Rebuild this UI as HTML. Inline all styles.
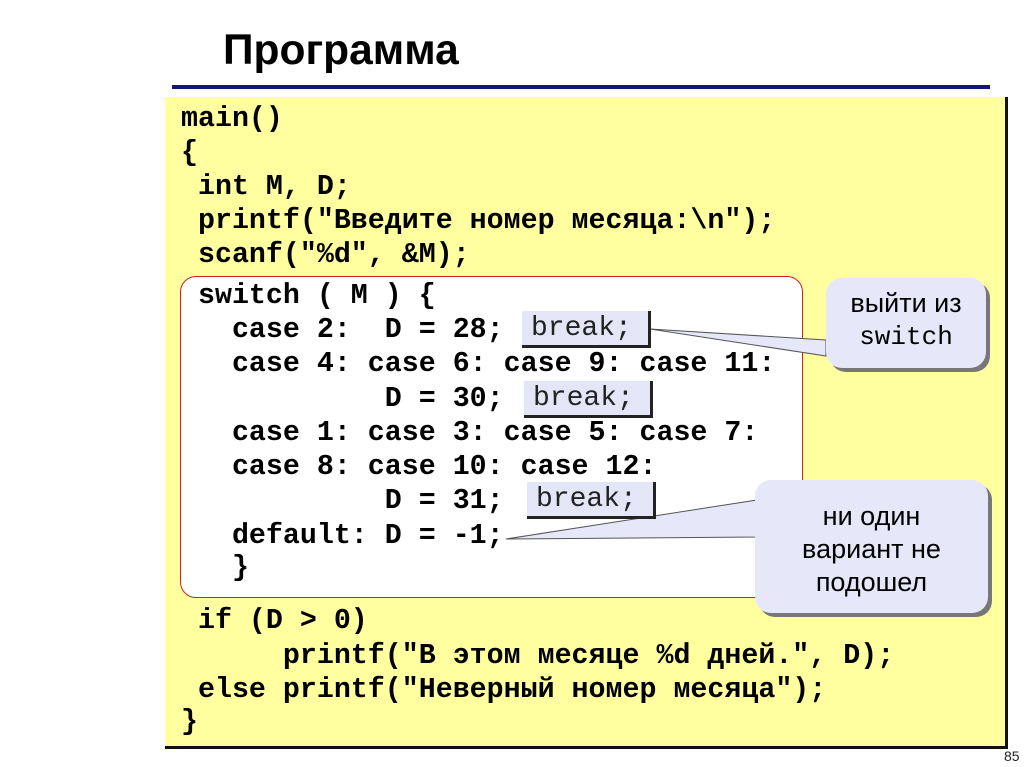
<!DOCTYPE html>
<html><head><meta charset="utf-8"><style>
body{margin:0;width:1024px;height:767px;background:#fff;position:relative;overflow:hidden;font-family:"Liberation Sans","Noto Sans CJK SC",sans-serif}
.abs{position:absolute}
.code{position:absolute;left:181px;font-family:"Liberation Mono",monospace;font-weight:bold;font-size:28.3px;white-space:pre;line-height:34px;color:#000}
.brk{position:absolute;background:#e4e6f8;border-right:3px solid #222;border-bottom:3px solid #222;font-family:"Liberation Mono",monospace;font-size:28px;line-height:35px;padding-left:9px;box-sizing:border-box;color:#222}
.call{position:absolute;background:#e6e8fa;border-radius:16px;box-shadow:4px 4px 0 #777;text-align:center;color:#000}
</style></head><body>
<div class="abs" style="left:223px;top:27px;font-size:42.5px;font-weight:bold">Программа</div>
<div class="abs" style="left:172px;top:85px;width:818px;height:4px;background:#14147e"></div>
<div class="abs" style="left:165px;top:97px;width:840px;height:649px;background:#ffff9f;border-right:3px solid #111;border-bottom:3px solid #111"></div>
<div class="abs" style="left:180px;top:276px;width:621px;height:320px;background:#fff;border:1.5px solid #d02020;border-radius:16px"></div>
<svg class="abs" style="left:0;top:0" width="1024" height="767">
<polygon points="650,329 826,340 826,356" fill="#e6e8fa" stroke="#555" stroke-width="1"/>
<polygon points="506,539 757,500 757,537" fill="#e6e8fa" stroke="#555" stroke-width="1"/>
</svg>
<div class="code" style="top:102px">main()</div>
<div class="code" style="top:136px">{</div>
<div class="code" style="top:170px"> int M, D;</div>
<div class="code" style="top:204px"> printf("Введите номер месяца:\n");</div>
<div class="code" style="top:238px"> scanf("%d", &amp;M);</div>
<div class="code" style="top:279px"> switch ( M ) {</div>
<div class="code" style="top:313px">   case 2:  D = 28;</div>
<div class="code" style="top:347px">   case 4: case 6: case 9: case 11:</div>
<div class="code" style="top:382px">            D = 30;</div>
<div class="code" style="top:416px">   case 1: case 3: case 5: case 7:</div>
<div class="code" style="top:450px">   case 8: case 10: case 12:</div>
<div class="code" style="top:484px">            D = 31;</div>
<div class="code" style="top:519px">   default: D = -1;</div>
<div class="code" style="top:551px">   }</div>
<div class="code" style="top:604px"> if (D &gt; 0)</div>
<div class="code" style="top:639px">      printf("В этом месяце %d дней.", D);</div>
<div class="code" style="top:673px"> else printf("Неверный номер месяца");</div>
<div class="code" style="top:705px">}</div>
<div class="brk" style="left:522px;top:311px;width:129px;height:37px">break;</div>
<div class="brk" style="left:524px;top:381px;width:129px;height:37px">break;</div>
<div class="brk" style="left:527px;top:482px;width:129px;height:37px">break;</div>
<div class="call" style="left:826px;top:278px;width:160px;height:90px;font-size:27px;line-height:32px;padding-top:9px;box-sizing:border-box">выйти из<br><span style="font-family:'Liberation Mono',monospace;font-size:26px">switch</span></div>
<div class="call" style="left:755px;top:480px;width:233px;height:133px;font-size:27px;line-height:33px;padding-top:20px;box-sizing:border-box">ни один<br>вариант не<br>подошел</div>
<div class="abs" style="left:1004px;top:748px;font-size:14px;color:#222">85</div>
</body></html>
